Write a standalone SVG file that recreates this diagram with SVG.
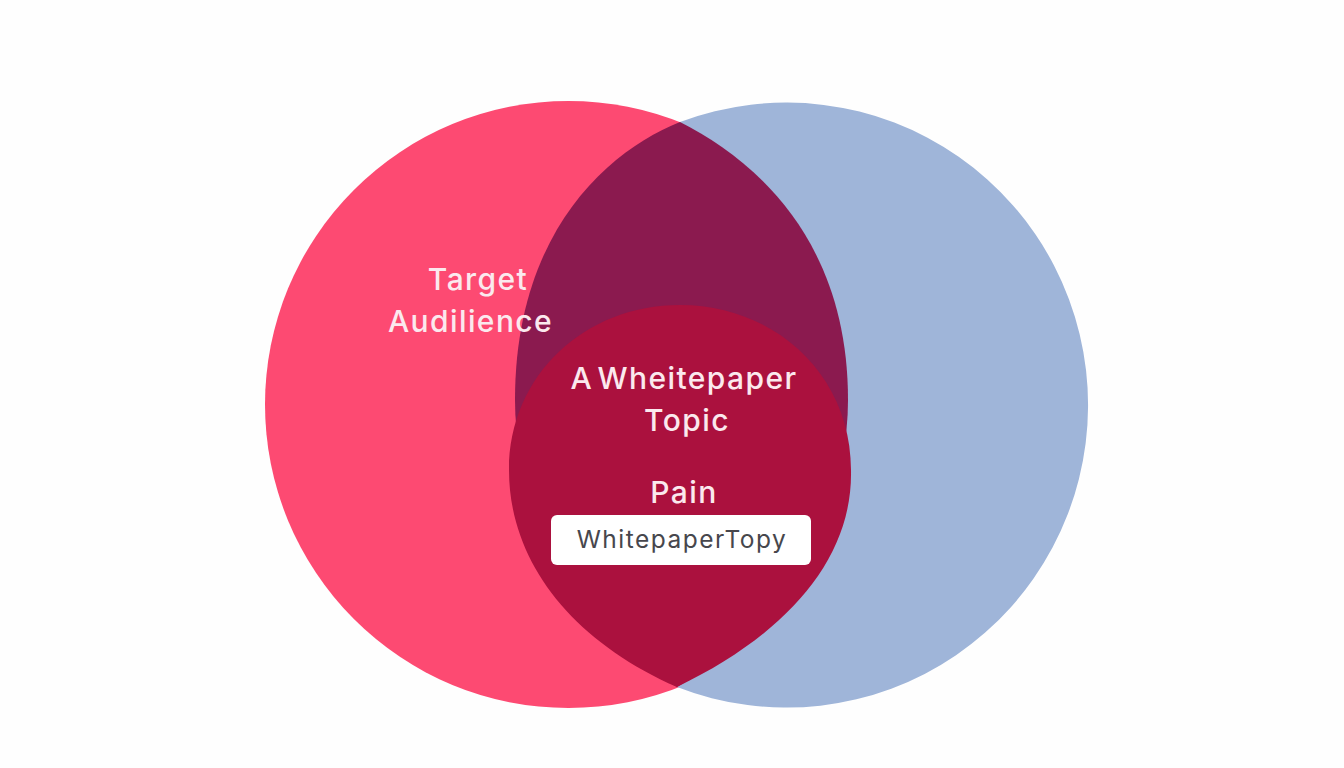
<svg xmlns="http://www.w3.org/2000/svg" width="1344" height="768" viewBox="0 0 1344 768">
<style>
text{font-family:"Inter","Noto Sans",sans-serif;font-size:30px;font-weight:500;fill:#fbe9ee;text-anchor:middle;letter-spacing:1.4px;word-spacing:-5px}
.s{font-size:24.500px;font-weight:400;fill:#47474d;letter-spacing:1.5px}
</style>
<rect width="1344" height="768" fill="#fefefe"/>
<g id="audience"><circle cx="568.500" cy="404.500" r="303.500" fill="#fd4a72"/></g>
<g id="topic"><path d="M680,122 A301.700,302.500 0 1 1 677,687 L680,400Z" fill="#9fb5d9"/></g>
<g id="overlap"><path d="M680,122 C 755,160 848,240 848,400 C 848,530 760,640 677,687 C 600,640 515,530 515,400 C 515,230 610,150 680,122Z" fill="#8b1a4f"/></g>
<g id="pain"><path d="M509,470 C 509,375 585,305 680,305 C 775,305 851,375 851,470 C 853,560 785,635 677,687 C 570,640 509,560 509,470Z" fill="#ab113e"/></g>
<g id="labels">
<text x="478" y="290">Target</text>
<text x="470.500" y="332">Audilience</text>
<text x="684" y="389">A Wheitepaper</text>
<text x="687" y="431">Topic</text>
<text x="684" y="503">Pain</text>
</g>
<g id="tag"><rect x="551" y="515" width="260" height="50" rx="6" fill="#fff"/>
<text class="s" x="682" y="548">WhitepaperTopy</text></g>
</svg>
